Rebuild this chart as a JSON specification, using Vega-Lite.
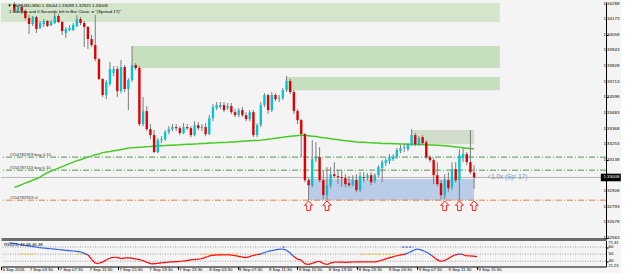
{
"$schema": "https://vega.github.io/schema/vega-lite/v6.json",
"background": "#f4f4f4",
"padding": 0,
"spacing": 1.5,
"bounds": "flush",
"config": {
 "view": {"stroke": null},
 "axis": {"labels": false, "domainColor": "#000000", "tickColor": "#000000", "grid": false, "tickSize": 2, "title": null},
 "text": {"font": "Liberation Sans"}
},
"datasets": {
 "bars": [
{"t":"2016-09-07 01:00","o":1.34285,"h":1.34300,"l":1.34226,"c":1.34241,"ma":1.32937,"rsi":65.9},
{"t":"2016-09-07 01:30","o":1.34234,"h":1.34278,"l":1.34219,"c":1.34263,"ma":1.32944,"rsi":65.1},
{"t":"2016-09-07 02:00","o":1.34263,"h":1.34278,"l":1.34212,"c":1.34234,"ma":1.32955,"rsi":64.3},
{"t":"2016-09-07 02:30","o":1.34234,"h":1.34248,"l":1.34167,"c":1.34182,"ma":1.32966,"rsi":63.3},
{"t":"2016-09-07 03:00","o":1.34182,"h":1.34204,"l":1.34064,"c":1.34138,"ma":1.32977,"rsi":62.6},
{"t":"2016-09-07 03:30","o":1.34138,"h":1.34197,"l":1.34123,"c":1.34189,"ma":1.32988,"rsi":61.7},
{"t":"2016-09-07 04:00","o":1.34189,"h":1.34197,"l":1.34072,"c":1.34101,"ma":1.32999,"rsi":61.0},
{"t":"2016-09-07 04:30","o":1.34108,"h":1.34160,"l":1.34101,"c":1.34145,"ma":1.33010,"rsi":60.1},
{"t":"2016-09-07 05:00","o":1.34138,"h":1.34175,"l":1.34116,"c":1.34160,"ma":1.33029,"rsi":59.3},
{"t":"2016-09-07 05:30","o":1.34160,"h":1.34167,"l":1.34116,"c":1.34123,"ma":1.33043,"rsi":58.7},
{"t":"2016-09-07 06:00","o":1.34130,"h":1.34167,"l":1.34123,"c":1.34153,"ma":1.33055,"rsi":58.1},
{"t":"2016-09-07 06:30","o":1.34145,"h":1.34219,"l":1.34138,"c":1.34197,"ma":1.33066,"rsi":57.6},
{"t":"2016-09-07 07:00","o":1.34197,"h":1.34212,"l":1.34145,"c":1.34153,"ma":1.33077,"rsi":57.1},
{"t":"2016-09-07 07:30","o":1.34153,"h":1.34160,"l":1.34057,"c":1.34086,"ma":1.33088,"rsi":56.6},
{"t":"2016-09-07 08:00","o":1.34072,"h":1.34116,"l":1.34035,"c":1.34101,"ma":1.33099,"rsi":56.0},
{"t":"2016-09-07 08:30","o":1.34094,"h":1.34130,"l":1.34086,"c":1.34108,"ma":1.33110,"rsi":55.4},
{"t":"2016-09-07 09:00","o":1.34094,"h":1.34145,"l":1.34086,"c":1.34130,"ma":1.33121,"rsi":55.0},
{"t":"2016-09-07 09:30","o":1.34123,"h":1.34204,"l":1.34116,"c":1.34175,"ma":1.33132,"rsi":54.4},
{"t":"2016-09-07 10:00","o":1.34175,"h":1.34189,"l":1.34130,"c":1.34145,"ma":1.33139,"rsi":53.9},
{"t":"2016-09-07 10:30","o":1.34145,"h":1.34160,"l":1.33968,"c":1.34116,"ma":1.33150,"rsi":53.3},
{"t":"2016-09-07 11:00","o":1.34116,"h":1.34123,"l":1.33954,"c":1.34027,"ma":1.33158,"rsi":51.1},
{"t":"2016-09-07 11:30","o":1.34027,"h":1.34057,"l":1.33968,"c":1.33983,"ma":1.33165,"rsi":49.0},
{"t":"2016-09-07 12:00","o":1.33983,"h":1.34204,"l":1.33865,"c":1.33880,"ma":1.33176,"rsi":42.1},
{"t":"2016-09-07 12:30","o":1.33880,"h":1.33887,"l":1.33725,"c":1.33733,"ma":1.33180,"rsi":36.9},
{"t":"2016-09-07 13:00","o":1.33733,"h":1.33740,"l":1.33600,"c":1.33615,"ma":1.33191,"rsi":37.1},
{"t":"2016-09-07 13:30","o":1.33615,"h":1.33725,"l":1.33585,"c":1.33710,"ma":1.33196,"rsi":39.0},
{"t":"2016-09-07 14:00","o":1.33696,"h":1.33858,"l":1.33681,"c":1.33806,"ma":1.33200,"rsi":42.4},
{"t":"2016-09-07 14:30","o":1.33777,"h":1.33828,"l":1.33755,"c":1.33806,"ma":1.33205,"rsi":44.6},
{"t":"2016-09-07 15:00","o":1.33806,"h":1.33828,"l":1.33600,"c":1.33644,"ma":1.33209,"rsi":45.6},
{"t":"2016-09-07 15:30","o":1.33644,"h":1.33873,"l":1.33629,"c":1.33821,"ma":1.33214,"rsi":45.0},
{"t":"2016-09-07 16:00","o":1.33821,"h":1.33836,"l":1.33637,"c":1.33659,"ma":1.33218,"rsi":43.6},
{"t":"2016-09-07 16:30","o":1.33659,"h":1.33740,"l":1.33504,"c":1.33725,"ma":1.33225,"rsi":44.6},
{"t":"2016-09-07 17:00","o":1.33725,"h":1.33976,"l":1.33710,"c":1.33836,"ma":1.33226,"rsi":44.7},
{"t":"2016-09-07 17:30","o":1.33836,"h":1.33850,"l":1.33799,"c":1.33814,"ma":1.33229,"rsi":44.1},
{"t":"2016-09-07 18:00","o":1.33814,"h":1.33828,"l":1.33386,"c":1.33401,"ma":1.33231,"rsi":43.0},
{"t":"2016-09-07 18:30","o":1.33401,"h":1.33600,"l":1.33386,"c":1.33497,"ma":1.33232,"rsi":42.0},
{"t":"2016-09-07 19:00","o":1.33497,"h":1.33534,"l":1.33349,"c":1.33364,"ma":1.33235,"rsi":40.1},
{"t":"2016-09-07 19:30","o":1.33364,"h":1.33401,"l":1.33290,"c":1.33320,"ma":1.33236,"rsi":37.9},
{"t":"2016-09-07 20:00","o":1.33320,"h":1.33357,"l":1.33187,"c":1.33195,"ma":1.33239,"rsi":36.3},
{"t":"2016-09-07 20:30","o":1.33195,"h":1.33298,"l":1.33187,"c":1.33283,"ma":1.33240,"rsi":36.7},
{"t":"2016-09-07 21:00","o":1.33283,"h":1.33312,"l":1.33261,"c":1.33290,"ma":1.33242,"rsi":37.3},
{"t":"2016-09-07 21:30","o":1.33290,"h":1.33357,"l":1.33276,"c":1.33342,"ma":1.33243,"rsi":37.9},
{"t":"2016-09-07 22:00","o":1.33342,"h":1.33386,"l":1.33327,"c":1.33364,"ma":1.33245,"rsi":38.4},
{"t":"2016-09-07 22:30","o":1.33364,"h":1.33401,"l":1.33349,"c":1.33379,"ma":1.33246,"rsi":39.0},
{"t":"2016-09-07 23:00","o":1.33379,"h":1.33401,"l":1.33349,"c":1.33371,"ma":1.33248,"rsi":39.1},
{"t":"2016-09-07 23:30","o":1.33371,"h":1.33386,"l":1.33320,"c":1.33335,"ma":1.33249,"rsi":39.4},
{"t":"2016-09-08 00:00","o":1.33335,"h":1.33408,"l":1.33327,"c":1.33379,"ma":1.33251,"rsi":39.9},
{"t":"2016-09-08 00:30","o":1.33379,"h":1.33401,"l":1.33357,"c":1.33371,"ma":1.33252,"rsi":40.4},
{"t":"2016-09-08 01:00","o":1.33371,"h":1.33386,"l":1.33305,"c":1.33320,"ma":1.33253,"rsi":41.4},
{"t":"2016-09-08 01:30","o":1.33320,"h":1.33423,"l":1.33312,"c":1.33393,"ma":1.33255,"rsi":42.1},
{"t":"2016-09-08 02:00","o":1.33393,"h":1.33416,"l":1.33357,"c":1.33371,"ma":1.33256,"rsi":42.6},
{"t":"2016-09-08 02:30","o":1.33371,"h":1.33401,"l":1.33349,"c":1.33379,"ma":1.33258,"rsi":43.1},
{"t":"2016-09-08 03:00","o":1.33379,"h":1.33408,"l":1.33312,"c":1.33327,"ma":1.33259,"rsi":44.7},
{"t":"2016-09-08 03:30","o":1.33327,"h":1.33467,"l":1.33320,"c":1.33445,"ma":1.33261,"rsi":46.6},
{"t":"2016-09-08 04:00","o":1.33445,"h":1.33548,"l":1.33423,"c":1.33526,"ma":1.33262,"rsi":48.3},
{"t":"2016-09-08 04:30","o":1.33519,"h":1.33563,"l":1.33504,"c":1.33541,"ma":1.33263,"rsi":48.6},
{"t":"2016-09-08 05:00","o":1.33526,"h":1.33563,"l":1.33511,"c":1.33541,"ma":1.33265,"rsi":48.9},
{"t":"2016-09-08 05:30","o":1.33541,"h":1.33563,"l":1.33489,"c":1.33504,"ma":1.33266,"rsi":49.0},
{"t":"2016-09-08 06:00","o":1.33519,"h":1.33556,"l":1.33504,"c":1.33534,"ma":1.33267,"rsi":49.0},
{"t":"2016-09-08 06:30","o":1.33534,"h":1.33556,"l":1.33475,"c":1.33489,"ma":1.33269,"rsi":49.0},
{"t":"2016-09-08 07:00","o":1.33489,"h":1.33511,"l":1.33452,"c":1.33467,"ma":1.33270,"rsi":48.1},
{"t":"2016-09-08 07:30","o":1.33467,"h":1.33519,"l":1.33452,"c":1.33504,"ma":1.33272,"rsi":47.1},
{"t":"2016-09-08 08:00","o":1.33504,"h":1.33526,"l":1.33452,"c":1.33467,"ma":1.33274,"rsi":46.0},
{"t":"2016-09-08 08:30","o":1.33467,"h":1.33489,"l":1.33423,"c":1.33438,"ma":1.33276,"rsi":45.0},
{"t":"2016-09-08 09:00","o":1.33438,"h":1.33504,"l":1.33423,"c":1.33489,"ma":1.33278,"rsi":46.1},
{"t":"2016-09-08 09:30","o":1.33489,"h":1.33504,"l":1.33305,"c":1.33320,"ma":1.33280,"rsi":48.0},
{"t":"2016-09-08 10:00","o":1.33320,"h":1.33408,"l":1.33305,"c":1.33393,"ma":1.33281,"rsi":49.1},
{"t":"2016-09-08 10:30","o":1.33393,"h":1.33563,"l":1.33379,"c":1.33541,"ma":1.33283,"rsi":50.1},
{"t":"2016-09-08 11:00","o":1.33541,"h":1.33629,"l":1.33526,"c":1.33615,"ma":1.33286,"rsi":52.0},
{"t":"2016-09-08 11:30","o":1.33615,"h":1.33622,"l":1.33475,"c":1.33504,"ma":1.33290,"rsi":53.7},
{"t":"2016-09-08 12:00","o":1.33504,"h":1.33637,"l":1.33489,"c":1.33615,"ma":1.33293,"rsi":54.9},
{"t":"2016-09-08 12:30","o":1.33615,"h":1.33629,"l":1.33570,"c":1.33585,"ma":1.33297,"rsi":55.9},
{"t":"2016-09-08 13:00","o":1.33585,"h":1.33615,"l":1.33563,"c":1.33592,"ma":1.33301,"rsi":56.7},
{"t":"2016-09-08 13:30","o":1.33592,"h":1.33666,"l":1.33578,"c":1.33651,"ma":1.33304,"rsi":57.3},
{"t":"2016-09-08 14:00","o":1.33651,"h":1.33755,"l":1.33637,"c":1.33718,"ma":1.33308,"rsi":55.6},
{"t":"2016-09-08 14:30","o":1.33718,"h":1.33733,"l":1.33622,"c":1.33637,"ma":1.33311,"rsi":51.9},
{"t":"2016-09-08 15:00","o":1.33637,"h":1.33651,"l":1.33475,"c":1.33497,"ma":1.33314,"rsi":46.7},
{"t":"2016-09-08 15:30","o":1.33497,"h":1.33511,"l":1.33401,"c":1.33430,"ma":1.33317,"rsi":42.9},
{"t":"2016-09-08 16:00","o":1.33430,"h":1.33438,"l":1.33158,"c":1.33327,"ma":1.33318,"rsi":41.6},
{"t":"2016-09-08 16:30","o":1.33327,"h":1.33335,"l":1.32973,"c":1.32988,"ma":1.33318,"rsi":36.1},
{"t":"2016-09-08 17:00","o":1.32988,"h":1.33003,"l":1.32841,"c":1.32951,"ma":1.33315,"rsi":35.4},
{"t":"2016-09-08 17:30","o":1.32951,"h":1.33283,"l":1.32937,"c":1.33143,"ma":1.33312,"rsi":36.9},
{"t":"2016-09-08 18:00","o":1.33143,"h":1.33268,"l":1.33121,"c":1.33158,"ma":1.33309,"rsi":39.0},
{"t":"2016-09-08 18:30","o":1.33158,"h":1.33231,"l":1.32973,"c":1.32988,"ma":1.33305,"rsi":39.6},
{"t":"2016-09-08 19:00","o":1.32988,"h":1.33062,"l":1.32848,"c":1.32878,"ma":1.33301,"rsi":36.4},
{"t":"2016-09-08 19:30","o":1.32878,"h":1.33084,"l":1.32841,"c":1.32951,"ma":1.33298,"rsi":35.4},
{"t":"2016-09-08 20:00","o":1.32951,"h":1.33084,"l":1.32929,"c":1.33032,"ma":1.33293,"rsi":37.6},
{"t":"2016-09-08 20:30","o":1.33032,"h":1.33121,"l":1.33003,"c":1.33018,"ma":1.33290,"rsi":38.9},
{"t":"2016-09-08 21:00","o":1.33018,"h":1.33062,"l":1.32959,"c":1.33010,"ma":1.33286,"rsi":38.7},
{"t":"2016-09-08 21:30","o":1.33010,"h":1.33062,"l":1.32937,"c":1.33003,"ma":1.33282,"rsi":38.6},
{"t":"2016-09-08 22:00","o":1.33003,"h":1.33032,"l":1.32937,"c":1.32959,"ma":1.33279,"rsi":38.3},
{"t":"2016-09-08 22:30","o":1.32966,"h":1.33018,"l":1.32937,"c":1.32951,"ma":1.33276,"rsi":38.6},
{"t":"2016-09-08 23:00","o":1.32951,"h":1.33025,"l":1.32944,"c":1.32988,"ma":1.33273,"rsi":38.9},
{"t":"2016-09-08 23:30","o":1.32988,"h":1.33032,"l":1.32900,"c":1.32914,"ma":1.33270,"rsi":39.0},
{"t":"2016-09-09 00:00","o":1.32914,"h":1.33047,"l":1.32900,"c":1.33018,"ma":1.33268,"rsi":39.0},
{"t":"2016-09-09 00:30","o":1.33010,"h":1.33047,"l":1.32973,"c":1.33003,"ma":1.33267,"rsi":39.0},
{"t":"2016-09-09 01:00","o":1.33003,"h":1.33040,"l":1.32988,"c":1.33025,"ma":1.33265,"rsi":39.0},
{"t":"2016-09-09 01:30","o":1.33025,"h":1.33047,"l":1.32951,"c":1.32973,"ma":1.33264,"rsi":39.0},
{"t":"2016-09-09 02:00","o":1.32981,"h":1.33040,"l":1.32966,"c":1.33025,"ma":1.33262,"rsi":39.0},
{"t":"2016-09-09 02:30","o":1.33025,"h":1.33099,"l":1.33010,"c":1.33084,"ma":1.33261,"rsi":40.6},
{"t":"2016-09-09 03:00","o":1.33077,"h":1.33136,"l":1.32973,"c":1.33121,"ma":1.33259,"rsi":42.3},
{"t":"2016-09-09 03:30","o":1.33114,"h":1.33150,"l":1.33092,"c":1.33136,"ma":1.33259,"rsi":43.9},
{"t":"2016-09-09 04:00","o":1.33129,"h":1.33180,"l":1.33106,"c":1.33158,"ma":1.33258,"rsi":45.4},
{"t":"2016-09-09 04:30","o":1.33143,"h":1.33180,"l":1.33129,"c":1.33158,"ma":1.33256,"rsi":47.0},
{"t":"2016-09-09 05:00","o":1.33158,"h":1.33224,"l":1.33143,"c":1.33209,"ma":1.33256,"rsi":48.3},
{"t":"2016-09-09 05:30","o":1.33202,"h":1.33246,"l":1.33187,"c":1.33224,"ma":1.33255,"rsi":49.3},
{"t":"2016-09-09 06:00","o":1.33224,"h":1.33253,"l":1.33195,"c":1.33231,"ma":1.33254,"rsi":50.4},
{"t":"2016-09-09 06:30","o":1.33217,"h":1.33261,"l":1.33202,"c":1.33246,"ma":1.33253,"rsi":52.6},
{"t":"2016-09-09 07:00","o":1.33246,"h":1.33364,"l":1.33239,"c":1.33320,"ma":1.33253,"rsi":55.3},
{"t":"2016-09-09 07:30","o":1.33320,"h":1.33335,"l":1.33239,"c":1.33253,"ma":1.33251,"rsi":57.3},
{"t":"2016-09-09 08:00","o":1.33253,"h":1.33312,"l":1.33239,"c":1.33298,"ma":1.33251,"rsi":56.1},
{"t":"2016-09-09 08:30","o":1.33305,"h":1.33320,"l":1.33246,"c":1.33261,"ma":1.33250,"rsi":54.1},
{"t":"2016-09-09 09:00","o":1.33268,"h":1.33283,"l":1.33143,"c":1.33158,"ma":1.33249,"rsi":51.3},
{"t":"2016-09-09 09:30","o":1.33158,"h":1.33172,"l":1.33121,"c":1.33136,"ma":1.33248,"rsi":47.7},
{"t":"2016-09-09 10:00","o":1.33136,"h":1.33150,"l":1.32959,"c":1.33025,"ma":1.33248,"rsi":43.3},
{"t":"2016-09-09 10:30","o":1.33025,"h":1.33121,"l":1.32944,"c":1.32959,"ma":1.33246,"rsi":40.1},
{"t":"2016-09-09 11:00","o":1.32966,"h":1.32988,"l":1.32848,"c":1.32878,"ma":1.33244,"rsi":40.3},
{"t":"2016-09-09 11:30","o":1.32878,"h":1.33032,"l":1.32848,"c":1.32988,"ma":1.33242,"rsi":42.7},
{"t":"2016-09-09 12:00","o":1.32988,"h":1.33047,"l":1.32900,"c":1.32929,"ma":1.33239,"rsi":46.0},
{"t":"2016-09-09 12:30","o":1.32937,"h":1.33121,"l":1.32914,"c":1.33069,"ma":1.33236,"rsi":48.7},
{"t":"2016-09-09 13:00","o":1.33069,"h":1.33121,"l":1.32973,"c":1.32988,"ma":1.33233,"rsi":50.0},
{"t":"2016-09-09 13:30","o":1.32988,"h":1.33217,"l":1.32841,"c":1.33172,"ma":1.33230,"rsi":49.9},
{"t":"2016-09-09 14:00","o":1.33150,"h":1.33224,"l":1.33121,"c":1.33180,"ma":1.33227,"rsi":47.7},
{"t":"2016-09-09 14:30","o":1.33180,"h":1.33195,"l":1.33099,"c":1.33121,"ma":1.33224,"rsi":47.6},
{"t":"2016-09-09 15:00","o":1.33121,"h":1.33357,"l":1.33032,"c":1.33047,"ma":1.33221,"rsi":47.1},
{"t":"2016-09-09 15:30","o":1.33044,"h":1.33099,"l":1.32925,"c":1.33008,"ma":1.33218,"rsi":46.48}
 ],
 "zones": [
  {"kind":"top","t1":"2016-09-06 20:00","t2":"2016-09-09 19:00","p1":1.34292,"p2":1.34153},
  {"kind":"supply","t1":"2016-09-07 17:00","t2":"2016-09-09 19:00","p1":1.33976,"p2":1.33814},
  {"kind":"supply","t1":"2016-09-08 14:00","t2":"2016-09-09 19:00","p1":1.33747,"p2":1.33651},
  {"kind":"weak","t1":"2016-09-09 07:00","t2":"2016-09-09 15:30","p1":1.33357,"p2":1.33253},
  {"kind":"demand","t1":"2016-09-08 17:00","t2":"2016-09-09 15:30","p1":1.32996,"p2":1.32841}
 ],
 "orders": [
  {"label":"#154782919 buy 0.10","kind":"buy","p":1.33158},
  {"label":"#154787113 buy 0.10","kind":"buy","p":1.33062},
  {"label":"#154782919 sl","kind":"sl","p":1.32841}
 ],
 "quote": [{"label":"1.33008","p":1.33008}],
 "yticks": [{"p":1.34288},{"p":1.34173},{"p":1.34058},{"p":1.33943},{"p":1.33828},{"p":1.33713},{"p":1.33598},{"p":1.33483},{"p":1.33368},{"p":1.33253},{"p":1.33138},{"p":1.32908},{"p":1.32793},{"p":1.32678},{"p":1.32563}],
 "xticks": [
  {"t":"2016-09-06 23:52","label":"6 Sep 2016"},
  {"t":"2016-09-07 03:30","label":"7 Sep 03:30"},
  {"t":"2016-09-07 07:30","label":"7 Sep 07:30"},
  {"t":"2016-09-07 11:30","label":"7 Sep 11:30"},
  {"t":"2016-09-07 15:30","label":"7 Sep 15:30"},
  {"t":"2016-09-07 19:30","label":"7 Sep 19:30"},
  {"t":"2016-09-07 23:30","label":"7 Sep 23:30"},
  {"t":"2016-09-08 03:30","label":"8 Sep 03:30"},
  {"t":"2016-09-08 07:30","label":"8 Sep 07:30"},
  {"t":"2016-09-08 11:30","label":"8 Sep 11:30"},
  {"t":"2016-09-08 15:30","label":"8 Sep 15:30"},
  {"t":"2016-09-08 19:30","label":"8 Sep 19:30"},
  {"t":"2016-09-08 23:30","label":"8 Sep 23:30"},
  {"t":"2016-09-09 03:30","label":"9 Sep 03:30"},
  {"t":"2016-09-09 07:30","label":"9 Sep 07:30"},
  {"t":"2016-09-09 11:30","label":"9 Sep 11:30"},
  {"t":"2016-09-09 15:30","label":"9 Sep 15:30"}
 ],
 "arrows": [
  {"t":"2016-09-08 17:00","p":1.32800},
  {"t":"2016-09-08 19:30","p":1.32800},
  {"t":"2016-09-09 11:30","p":1.32800},
  {"t":"2016-09-09 13:30","p":1.32800},
  {"t":"2016-09-09 15:30","p":1.32800}
 ],
 "notes": [
  {"label":"▼ EURUSD,M30  1.33044 1.33099 1.32925 1.33008","t":"2016-09-07 00:04","p":1.34271},
  {"label":"1 Minutes and 0 Seconds left to Bar Close. = \"(Spread 17)\"","t":"2016-09-07 00:16","p":1.34226}
 ],
 "spread": [{"label":"<1.0x (Sp: 17)","t":"2016-09-09 17:20","p":1.33014}],
 "levels": [{"lv":60},{"lv":50},{"lv":40}],
 "indscale": [{"label":"71.31","v":66.0},{"label":"21.23","v":33.8}],
 "sig": [
  {"kind":"mid","t1":"2016-09-07 02:30","t2":"2016-09-07 04:30","v":50},
  {"kind":"mid","t1":"2016-09-07 10:00","t2":"2016-09-07 11:30","v":50},
  {"kind":"mid","t1":"2016-09-08 02:30","t2":"2016-09-08 07:30","v":50},
  {"kind":"mid","t1":"2016-09-08 10:00","t2":"2016-09-08 11:30","v":50},
  {"kind":"mid","t1":"2016-09-09 00:00","t2":"2016-09-09 04:30","v":50},
  {"kind":"up","t1":"2016-09-08 13:30","t2":"2016-09-08 14:00","v":60},
  {"kind":"up","t1":"2016-09-09 05:30","t2":"2016-09-09 07:00","v":60}
 ],
 "indtitle": [{"label":"RSI(21) 46.48 46.48","t":"2016-09-07 00:16","v":63.5}]
},
"vconcat": [
 {
  "width": 605, "height": 237,
  "resolve": {"scale": {"color": "independent"}},
  "layer": [
   {
    "data": {"name": "zones"},
    "mark": {"type": "rect", "clip": true},
    "encoding": {
     "x": {"field": "t1", "type": "temporal", "scale": {"domain": [{"year":2016,"month":9,"date":6,"hours":23,"minutes":52},{"year":2016,"month":9,"date":10,"hours":8,"minutes":45}], "nice": false},
           "axis": {"orient": "bottom", "labels": false, "ticks": false, "domainColor": "#6e6e6e", "domainWidth": 3, "title": null}},
     "x2": {"field": "t2"},
     "y": {"field": "p1", "type": "quantitative", "scale": {"domain": [1.32555, 1.343], "zero": false, "nice": false},
           "axis": {"orient": "right", "labels": false, "values": [1.34288,1.34173,1.34058,1.33943,1.33828,1.33713,1.33598,1.33483,1.33368,1.33253,1.33138,1.32908,1.32793,1.32678,1.32563], "title": null}},
     "y2": {"field": "p2"},
     "color": {"field": "kind", "type": "nominal", "scale": {"domain": ["top","supply","weak","demand"], "range": ["#d3e6cc","#c6dfbe","#d2dccb","#b9cce8"]}, "legend": null}
    }
   },
   {
    "data": {"name": "yticks"},
    "mark": {"type": "text", "align": "left", "baseline": "middle", "fontSize": 4.4, "color": "#000000"},
    "encoding": {
     "x": {"datum": {"year":2016,"month":9,"date":10,"hours":9,"minutes":5}, "type": "temporal", "scale": {"domain": [{"year":2016,"month":9,"date":6,"hours":23,"minutes":52},{"year":2016,"month":9,"date":10,"hours":8,"minutes":45}], "nice": false}},
     "y": {"field": "p", "type": "quantitative", "scale": {"domain": [1.32555, 1.343], "zero": false, "nice": false}},
     "text": {"field": "p", "type": "quantitative", "format": ".5f"}
    }
   },
   {
    "data": {"name": "orders"},
    "mark": {"type": "rule", "strokeDash": [6,2,1,2], "strokeWidth": 1},
    "encoding": {
     "y": {"field": "p", "type": "quantitative", "scale": {"domain": [1.32555, 1.343], "zero": false, "nice": false}},
     "color": {"field": "kind", "type": "nominal", "scale": {"domain": ["buy","sl"], "range": ["#4f9a4f","#f07830"]}, "legend": null}
    }
   },
   {
    "data": {"name": "orders"},
    "mark": {"type": "text", "align": "left", "baseline": "bottom", "dy": -0.5, "fontSize": 4.3, "color": "#333333"},
    "encoding": {
     "x": {"datum": {"year":2016,"month":9,"date":7,"hours":0,"minutes":20}, "type": "temporal", "scale": {"domain": [{"year":2016,"month":9,"date":6,"hours":23,"minutes":52},{"year":2016,"month":9,"date":10,"hours":8,"minutes":45}], "nice": false}},
     "y": {"field": "p", "type": "quantitative", "scale": {"domain": [1.32555, 1.343], "zero": false, "nice": false}},
     "text": {"field": "label"}
    }
   },
   {
    "data": {"name": "quote"},
    "mark": {"type": "rule", "color": "#b8b8b8", "strokeWidth": 1},
    "encoding": {
     "y": {"field": "p", "type": "quantitative", "scale": {"domain": [1.32555, 1.343], "zero": false, "nice": false}}
    }
   },
   {
    "data": {"name": "bars"},
    "mark": {"type": "line", "color": "#44cc22", "strokeWidth": 1.5},
    "encoding": {
     "x": {"field": "t", "type": "temporal", "scale": {"domain": [{"year":2016,"month":9,"date":6,"hours":23,"minutes":52},{"year":2016,"month":9,"date":10,"hours":8,"minutes":45}], "nice": false}},
     "y": {"field": "ma", "type": "quantitative", "scale": {"domain": [1.32555, 1.343], "zero": false, "nice": false}}
    }
   },
   {
    "data": {"name": "bars"},
    "mark": {"type": "rule", "color": "#7c7c7c", "strokeWidth": 1},
    "encoding": {
     "x": {"field": "t", "type": "temporal", "scale": {"domain": [{"year":2016,"month":9,"date":6,"hours":23,"minutes":52},{"year":2016,"month":9,"date":10,"hours":8,"minutes":45}], "nice": false}},
     "y": {"field": "h", "type": "quantitative", "scale": {"domain": [1.32555, 1.343], "zero": false, "nice": false}},
     "y2": {"field": "l"}
    }
   },
   {
    "data": {"name": "bars"},
    "mark": {"type": "bar", "size": 2.4},
    "encoding": {
     "x": {"field": "t", "type": "temporal", "scale": {"domain": [{"year":2016,"month":9,"date":6,"hours":23,"minutes":52},{"year":2016,"month":9,"date":10,"hours":8,"minutes":45}], "nice": false}},
     "y": {"field": "o", "type": "quantitative", "scale": {"domain": [1.32555, 1.343], "zero": false, "nice": false}},
     "y2": {"field": "c"},
     "color": {"condition": {"test": "datum.c > datum.o", "value": "#00c8d2"}, "value": "#e00000"}
    }
   },
   {
    "data": {"name": "arrows"},
    "mark": {"type": "point", "shape": "M0,-1L0.85,-0.1L0.38,-0.1L0.38,1L-0.38,1L-0.38,-0.1L-0.85,-0.1Z", "size": 90, "filled": true, "fill": "#ffffff", "stroke": "#ff1a1a", "strokeWidth": 1, "opacity": 1},
    "encoding": {
     "x": {"field": "t", "type": "temporal", "scale": {"domain": [{"year":2016,"month":9,"date":6,"hours":23,"minutes":52},{"year":2016,"month":9,"date":10,"hours":8,"minutes":45}], "nice": false}},
     "y": {"field": "p", "type": "quantitative", "scale": {"domain": [1.32555, 1.343], "zero": false, "nice": false}}
    }
   },
   {
    "data": {"name": "notes"},
    "mark": {"type": "text", "align": "left", "baseline": "middle", "fontSize": 4.3, "color": "#000000"},
    "encoding": {
     "x": {"field": "t", "type": "temporal", "scale": {"domain": [{"year":2016,"month":9,"date":6,"hours":23,"minutes":52},{"year":2016,"month":9,"date":10,"hours":8,"minutes":45}], "nice": false}},
     "y": {"field": "p", "type": "quantitative", "scale": {"domain": [1.32555, 1.343], "zero": false, "nice": false}},
     "text": {"field": "label"}
    }
   },
   {
    "data": {"name": "spread"},
    "mark": {"type": "text", "align": "left", "baseline": "middle", "fontSize": 6.3, "color": "#7b97b8"},
    "encoding": {
     "x": {"field": "t", "type": "temporal", "scale": {"domain": [{"year":2016,"month":9,"date":6,"hours":23,"minutes":52},{"year":2016,"month":9,"date":10,"hours":8,"minutes":45}], "nice": false}},
     "y": {"field": "p", "type": "quantitative", "scale": {"domain": [1.32555, 1.343], "zero": false, "nice": false}},
     "text": {"field": "label"}
    }
   },
   {
    "data": {"name": "quote"},
    "mark": {"type": "point", "shape": "M-1,-0.38L1,-0.38L1,0.38L-1,0.38Z", "size": 400, "filled": true, "color": "#000000", "opacity": 1},
    "encoding": {
     "x": {"datum": {"year":2016,"month":9,"date":10,"hours":10,"minutes":5}, "type": "temporal", "scale": {"domain": [{"year":2016,"month":9,"date":6,"hours":23,"minutes":52},{"year":2016,"month":9,"date":10,"hours":8,"minutes":45}], "nice": false}},
     "y": {"field": "p", "type": "quantitative", "scale": {"domain": [1.32555, 1.343], "zero": false, "nice": false}}
    }
   },
   {
    "data": {"name": "quote"},
    "mark": {"type": "text", "align": "left", "baseline": "middle", "fontSize": 4.4, "color": "#ffffff"},
    "encoding": {
     "x": {"datum": {"year":2016,"month":9,"date":10,"hours":9,"minutes":5}, "type": "temporal", "scale": {"domain": [{"year":2016,"month":9,"date":6,"hours":23,"minutes":52},{"year":2016,"month":9,"date":10,"hours":8,"minutes":45}], "nice": false}},
     "y": {"field": "p", "type": "quantitative", "scale": {"domain": [1.32555, 1.343], "zero": false, "nice": false}},
     "text": {"field": "label"}
    }
   }
  ]
 },
 {
  "width": 605, "height": 26,
  "resolve": {"scale": {"color": "independent"}},
  "layer": [
   {
    "data": {"name": "levels"},
    "mark": {"type": "rule", "color": "#8a8a8a", "strokeDash": [1,1.5], "strokeWidth": 0.8},
    "encoding": {
     "y": {"field": "lv", "type": "quantitative", "scale": {"domain": [32.5, 69.3], "zero": false, "nice": false},
           "axis": {"orient": "right", "labels": false, "values": [60,50,40], "title": null}}
    }
   },
   {
    "data": {"name": "levels"},
    "mark": {"type": "text", "align": "left", "baseline": "middle", "fontSize": 4.4, "color": "#000000"},
    "encoding": {
     "x": {"datum": {"year":2016,"month":9,"date":10,"hours":9,"minutes":5}, "type": "temporal", "scale": {"domain": [{"year":2016,"month":9,"date":6,"hours":23,"minutes":52},{"year":2016,"month":9,"date":10,"hours":8,"minutes":45}], "nice": false}},
     "y": {"field": "lv", "type": "quantitative", "scale": {"domain": [32.5, 69.3], "zero": false, "nice": false}},
     "text": {"field": "lv", "type": "quantitative", "format": "d"}
    }
   },
   {
    "data": {"name": "indscale"},
    "mark": {"type": "text", "align": "left", "baseline": "middle", "fontSize": 4.0, "color": "#000000"},
    "encoding": {
     "x": {"datum": {"year":2016,"month":9,"date":10,"hours":9,"minutes":5}, "type": "temporal", "scale": {"domain": [{"year":2016,"month":9,"date":6,"hours":23,"minutes":52},{"year":2016,"month":9,"date":10,"hours":8,"minutes":45}], "nice": false}},
     "y": {"field": "v", "type": "quantitative", "scale": {"domain": [32.5, 69.3], "zero": false, "nice": false}},
     "text": {"field": "label"}
    }
   },
   {
    "data": {"name": "sig"},
    "mark": {"type": "rule", "strokeDash": [2,1.5], "strokeWidth": 1},
    "encoding": {
     "x": {"field": "t1", "type": "temporal", "scale": {"domain": [{"year":2016,"month":9,"date":6,"hours":23,"minutes":52},{"year":2016,"month":9,"date":10,"hours":8,"minutes":45}], "nice": false}},
     "x2": {"field": "t2"},
     "y": {"field": "v", "type": "quantitative", "scale": {"domain": [32.5, 69.3], "zero": false, "nice": false}},
     "color": {"field": "kind", "type": "nominal", "scale": {"domain": ["mid","up"], "range": ["#e6c200","#2040c0"]}, "legend": null}
    }
   },
   {
    "data": {"name": "bars"},
    "transform": [
     {"window": [{"op": "lead", "field": "rsi", "as": "rsi2"}, {"op": "lead", "field": "t", "as": "t2"}], "sort": [{"field": "t"}]},
     {"filter": "datum.t2 != null"}
    ],
    "mark": {"type": "rule", "strokeWidth": 1.2},
    "encoding": {
     "x": {"field": "t", "type": "temporal", "scale": {"domain": [{"year":2016,"month":9,"date":6,"hours":23,"minutes":52},{"year":2016,"month":9,"date":10,"hours":8,"minutes":45}], "nice": false},
           "axis": {"orient": "bottom", "title": null, "labels": false, "tickSize": 3, "values": [
             {"year":2016,"month":9,"date":6,"hours":23,"minutes":52},
             {"year":2016,"month":9,"date":7,"hours":3,"minutes":30},
             {"year":2016,"month":9,"date":7,"hours":7,"minutes":30},
             {"year":2016,"month":9,"date":7,"hours":11,"minutes":30},
             {"year":2016,"month":9,"date":7,"hours":15,"minutes":30},
             {"year":2016,"month":9,"date":7,"hours":19,"minutes":30},
             {"year":2016,"month":9,"date":7,"hours":23,"minutes":30},
             {"year":2016,"month":9,"date":8,"hours":3,"minutes":30},
             {"year":2016,"month":9,"date":8,"hours":7,"minutes":30},
             {"year":2016,"month":9,"date":8,"hours":11,"minutes":30},
             {"year":2016,"month":9,"date":8,"hours":15,"minutes":30},
             {"year":2016,"month":9,"date":8,"hours":19,"minutes":30},
             {"year":2016,"month":9,"date":8,"hours":23,"minutes":30},
             {"year":2016,"month":9,"date":9,"hours":3,"minutes":30},
             {"year":2016,"month":9,"date":9,"hours":7,"minutes":30},
             {"year":2016,"month":9,"date":9,"hours":11,"minutes":30},
             {"year":2016,"month":9,"date":9,"hours":15,"minutes":30}]}},
     "x2": {"field": "t2"},
     "y": {"field": "rsi", "type": "quantitative", "scale": {"domain": [32.5, 69.3], "zero": false, "nice": false}},
     "y2": {"field": "rsi2"},
     "color": {"condition": {"test": "datum.rsi >= 50", "value": "#2a5ce6"}, "value": "#ff0000"}
    }
   },
   {
    "data": {"name": "xticks"},
    "mark": {"type": "text", "align": "left", "baseline": "middle", "dx": 1.5, "fontSize": 4.3, "color": "#000000"},
    "encoding": {
     "x": {"field": "t", "type": "temporal", "scale": {"domain": [{"year":2016,"month":9,"date":6,"hours":23,"minutes":52},{"year":2016,"month":9,"date":10,"hours":8,"minutes":45}], "nice": false}},
     "y": {"datum": 27.2, "type": "quantitative", "scale": {"domain": [32.5, 69.3], "zero": false, "nice": false}},
     "text": {"field": "label"}
    }
   },
   {
    "data": {"name": "indtitle"},
    "mark": {"type": "text", "align": "left", "baseline": "middle", "fontSize": 4.3, "color": "#000000"},
    "encoding": {
     "x": {"field": "t", "type": "temporal", "scale": {"domain": [{"year":2016,"month":9,"date":6,"hours":23,"minutes":52},{"year":2016,"month":9,"date":10,"hours":8,"minutes":45}], "nice": false}},
     "y": {"field": "v", "type": "quantitative", "scale": {"domain": [32.5, 69.3], "zero": false, "nice": false}},
     "text": {"field": "label"}
    }
   }
  ]
 }
]
}
